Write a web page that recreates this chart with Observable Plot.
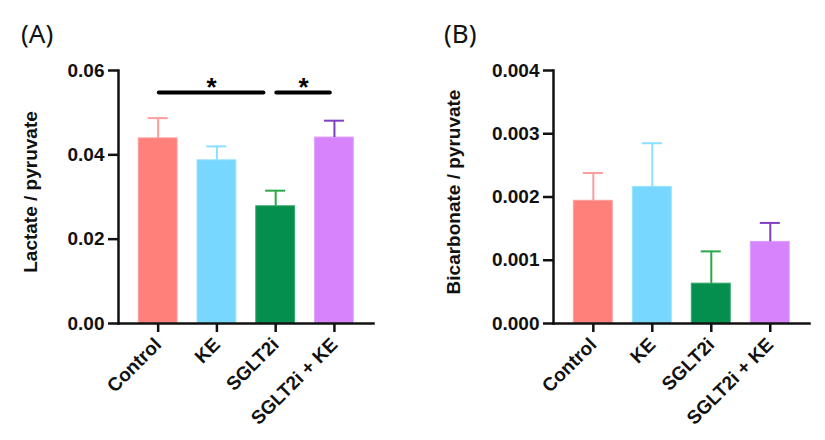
<!DOCTYPE html>
<html>
<head>
<meta charset="utf-8">
<script src="https://cdn.jsdelivr.net/npm/d3@7"></script>
<script src="https://cdn.jsdelivr.net/npm/@observablehq/plot@0.6"></script>
<style>
  html, body { margin: 0; padding: 0; background: #fff; }
  #wrap { position: relative; width: 825px; height: 440px; overflow: hidden; }
  .panel { position: absolute; top: 0; }
  .ptitle { position: absolute; font-family: "Noto Sans", "Open Sans", sans-serif; font-size: 26px; line-height: 26px; color: #111; z-index: 2; }
</style>
</head>
<body>
<div id="wrap">
  <div id="pa" class="panel" style="left:0px;"></div>
  <div id="pb" class="panel" style="left:412px;"></div>
  <div class="ptitle" style="left:21px; top:20px;">(A)</div>
  <div class="ptitle" style="left:444px; top:20px;">(B)</div>
</div>
<script>
const categories = ["Control", "KE", "SGLT2i", "SGLT2i + KE"];
const barColors = ["#ff7f7b", "#78d7fe", "#058f4f", "#d683fc"];
const barEdge = ["#ffa09c", "#98e2ff", "#36a866", "#e0a0fd"];
const errColors = ["#ff9c9c", "#8ae0ff", "#2aa848", "#7e3fc2"];

const lactateMean = [0.0439, 0.0387, 0.0278, 0.0441];
const lactateErr  = [0.0048, 0.0033, 0.0037, 0.0040];
const lactateTicks = [0, 0.02, 0.04, 0.06];
const lactateComparisons = [
  { from: "Control", to: "SGLT2i", level: 0.0548, label: "*" },
  { from: "SGLT2i", to: "SGLT2i + KE", level: 0.0548, label: "*" }
];

const bicarbMean = [0.00194, 0.00216, 0.00063, 0.00129];
const bicarbErr  = [0.00044, 0.00069, 0.00051, 0.00030];
const bicarbTicks = [0, 0.001, 0.002, 0.003, 0.004];

const FONT = "'Liberation Sans', Arial, sans-serif";

function makePanel({mean, err, ticks, fmt, ymax, label, marginLeft, marginRight, width, labelDx, comparisons}) {
  const rows = categories.map((c, i) => ({
    i, cat: c, v: mean[i], e: err[i], fill: barColors[i], edge: barEdge[i], ec: errColors[i]
  }));
  const half = 0.33, cap = 0.17;
  const marks = [
    Plot.rectY(rows, {x1: d => d.i - half, x2: d => d.i + half, y1: 0, y2: "v", fill: "fill", stroke: "edge", strokeWidth: 1}),
    Plot.ruleX(rows, {x: "i", y1: "v", y2: d => d.v + d.e, stroke: "ec", strokeWidth: 2}),
    Plot.ruleY(rows, {x1: d => d.i - cap, x2: d => d.i + cap, y: d => d.v + d.e, stroke: "ec", strokeWidth: 2}),
    Plot.frame({anchor: "left", strokeWidth: 2.5, stroke: "#111"}),
    Plot.frame({anchor: "bottom", strokeWidth: 2.5, stroke: "#111"}),
    Plot.axisY({ticks, tickFormat: fmt, tickSize: 10, tickPadding: 4, strokeWidth: 2.5, stroke: "#111", fill: "#111", fontSize: 19, fontWeight: "bold", label: null}),
    Plot.axisX({ticks: [0, 1, 2, 3], tickFormat: i => categories[i], tickSize: 9, tickPadding: 9, tickRotate: -45, strokeWidth: 2.5, stroke: "#111", fill: "#111", fontSize: 19, fontWeight: "bold", label: null}),
    Plot.text([label], {frameAnchor: "left", textAnchor: "middle", dx: labelDx, dy: -5, rotate: -90, fontSize: 19, fontWeight: "bold", fill: "#111"})
  ];
  if (comparisons) {
    const idx = c => categories.indexOf(c);
    const segs = comparisons.map((c, k) => {
      const a = idx(c.from), b = idx(c.to);
      const x1 = a + 0.02;
      const x2 = b - (k === 0 ? 0.2 : 0.07);
      return {x1, x2, y: c.level, label: c.label, xm: (x1 + x2) / 2};
    });
    marks.push(
      Plot.ruleY(segs, {x1: "x1", x2: "x2", y: "y", stroke: "#000", strokeWidth: 4, strokeLinecap: "round"}),
      Plot.text(segs, {x: "xm", y: "y", text: "label", dy: 4, lineAnchor: "bottom", fontSize: 26, fontWeight: "bold", fill: "#000"})
    );
  }
  return Plot.plot({
    width, height: 440,
    marginLeft, marginRight, marginTop: 70, marginBottom: 117,
    style: {fontFamily: FONT, background: "transparent", overflow: "visible"},
    x: {type: "linear", domain: [-0.675, 3.665], axis: null},
    y: {domain: [0, ymax], axis: null},
    marks
  });
}

document.getElementById("pa").append(makePanel({
  mean: lactateMean, err: lactateErr, ticks: lactateTicks, fmt: d3.format(".2f"), ymax: 0.06,
  label: "Lactate / pyruvate", marginLeft: 118, marginRight: 39, width: 412, labelDx: -88,
  comparisons: lactateComparisons
}));
document.getElementById("pb").append(makePanel({
  mean: bicarbMean, err: bicarbErr, ticks: bicarbTicks, fmt: d3.format(".3f"), ymax: 0.004,
  label: "Bicarbonate / pyruvate", marginLeft: 141, marginRight: 16, width: 413, labelDx: -100,
  comparisons: null
}));
</script>
</body>
</html>
